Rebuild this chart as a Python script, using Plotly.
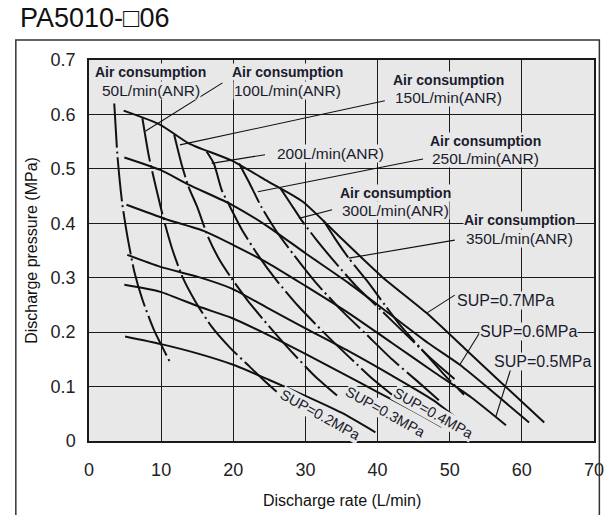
import plotly.graph_objects as go

# ---- axes ----
rate_ticks = [0, 10, 20, 30, 40, 50, 60, 70]
pressure_ticks = [0, 0.1, 0.2, 0.3, 0.4, 0.5, 0.6, 0.7]
pressure_tick_text = ["0", "0.1", "0.2", "0.3", "0.4", "0.5", "0.6", "0.7"]

# ---- supply pressure curves (discharge rate L/min, discharge pressure MPa) ----
sup07_x = [4.8, 9.9, 13.8, 19.8, 24.8, 29.6, 35.0, 40.6, 46.8, 52.0, 57.0, 63.1]
sup07_y = [0.607, 0.581, 0.547, 0.515, 0.477, 0.440, 0.372, 0.302, 0.235, 0.171, 0.109, 0.034]
sup06_x = [4.9, 9.9, 13.8, 19.8, 24.8, 30.0, 36.0, 42.0, 47.0, 51.4, 56.0, 61.0]
sup06_y = [0.521, 0.498, 0.471, 0.434, 0.394, 0.345, 0.290, 0.230, 0.180, 0.140, 0.090, 0.034]
sup05_x = [5.2, 10.6, 15.9, 20.0, 24.8, 30.0, 36.0, 42.0, 48.0, 53.0, 57.8]
sup05_y = [0.434, 0.408, 0.386, 0.360, 0.327, 0.285, 0.235, 0.180, 0.125, 0.080, 0.029]
sup04_x = [5.3, 9.9, 15.0, 19.8, 24.8, 30.0, 36.0, 42.0, 47.7, 52.8]
sup04_y = [0.342, 0.320, 0.302, 0.280, 0.244, 0.207, 0.165, 0.120, 0.075, 0.022]
sup03_x = [4.9, 9.9, 15.2, 19.8, 24.8, 30.0, 35.0, 40.0, 45.0, 48.9]
sup03_y = [0.287, 0.274, 0.247, 0.226, 0.195, 0.160, 0.125, 0.090, 0.055, 0.026]
sup02_x = [5.0, 10.0, 15.0, 20.0, 25.0, 30.0, 35.0, 39.7]
sup02_y = [0.192, 0.178, 0.161, 0.140, 0.112, 0.083, 0.052, 0.016]

# ---- air consumption curves ----
air050_x = [3.5, 3.95, 4.6, 5.4, 6.3, 7.4, 9.0, 11.3]
air050_y = [0.620, 0.523, 0.437, 0.370, 0.310, 0.260, 0.204, 0.143]
air100_x = [7.4, 8.3, 9.3, 10.4, 11.6, 13.0, 14.8, 17.0, 19.5, 22.0, 24.2, 26.2]
air100_y = [0.593, 0.523, 0.465, 0.405, 0.350, 0.300, 0.255, 0.210, 0.172, 0.140, 0.112, 0.088]
air150_x = [11.8, 12.8, 13.8, 15.0, 16.5, 18.0, 19.7, 22.0, 25.0, 28.0, 31.4, 34.6]
air150_y = [0.563, 0.510, 0.467, 0.430, 0.375, 0.335, 0.300, 0.258, 0.210, 0.165, 0.118, 0.081]
air200_x = [16.3, 17.3, 18.4, 19.3, 21.2, 23.5, 26.0, 29.0, 32.5, 36.0, 39.5, 42.0]
air200_y = [0.532, 0.510, 0.461, 0.437, 0.388, 0.340, 0.295, 0.248, 0.200, 0.155, 0.112, 0.085]
air250_x = [20.8, 22.2, 23.9, 26.0, 28.5, 31.5, 35.0, 38.5, 42.0, 45.5, 48.5]
air250_y = [0.510, 0.475, 0.430, 0.385, 0.340, 0.290, 0.240, 0.195, 0.150, 0.110, 0.075]
air300_x = [26.5, 28.0, 29.5, 31.5, 34.0, 37.0, 40.5, 44.0, 47.5, 51.0]
air300_y = [0.465, 0.435, 0.405, 0.370, 0.330, 0.285, 0.240, 0.195, 0.150, 0.110]
air350_x = [32.5, 34.2, 36.0, 38.5, 41.0, 43.3, 46.0, 49.3, 52.0]
air350_y = [0.405, 0.370, 0.336, 0.295, 0.250, 0.210, 0.170, 0.121, 0.085]

sup_curves = [(sup07_x, sup07_y), (sup06_x, sup06_y), (sup05_x, sup05_y),
              (sup04_x, sup04_y), (sup03_x, sup03_y), (sup02_x, sup02_y)]
air_curves = [(air050_x, air050_y), (air100_x, air100_y), (air150_x, air150_y),
              (air200_x, air200_y), (air250_x, air250_y), (air300_x, air300_y),
              (air350_x, air350_y)]

INK = "#1b1b2e"
PLOT_BG = "#e7e8e7"
FONT = "Arial, Liberation Sans, sans-serif"

fig = go.Figure()

for xs, ys in sup_curves:
    fig.add_trace(go.Scatter(x=xs, y=ys, mode="lines",
                             line=dict(color="#111111", width=2, shape="spline", smoothing=0.6),
                             hoverinfo="skip", showlegend=False))

for xs, ys in air_curves:
    fig.add_trace(go.Scatter(x=xs, y=ys, mode="lines",
                             line=dict(color="#111111", width=2, shape="spline", smoothing=0.6,
                                       dash="44px,4px,2px,4px"),
                             hoverinfo="skip", showlegend=False))

# leader lines from labels to curves
leaders = [
    (18.5, 0.658, 7.8, 0.569),
    (41.0, 0.625, 12.6, 0.544),
    (24.4, 0.526, 17.0, 0.510),
    (46.3, 0.518, 23.4, 0.458),
    (33.7, 0.425, 29.1, 0.409),
    (50.7, 0.369, 36.0, 0.336),
    (50.7, 0.268, 46.8, 0.235),
    (54.1, 0.198, 51.4, 0.140),
    (58.5, 0.134, 56.4, 0.045),
]
shapes = []
for x0, y0, x1, y1 in leaders:
    shapes.append(dict(type="line", xref="x", yref="y", x0=x0, y0=y0, x1=x1, y1=y1,
                       line=dict(color="#111111", width=1.1), layer="above"))

# outer frame around the figure
shapes.append(dict(type="path", xref="paper", yref="paper",
                   path="M -0.1449,-0.25 L -0.1449,1.0525 L 1.0106,1.0525 L 1.0106,-0.25",
                   line=dict(color="#333333", width=1.5)))

annotations = []

def label(x, y, text, size=16.5, angle=0, anchor="center"):
    annotations.append(dict(x=x, y=y, xref="x", yref="y", text=text, showarrow=False,
                            xanchor=anchor, yanchor="middle", textangle=angle,
                            font=dict(family=FONT, size=size, color=INK),
                            bgcolor=PLOT_BG, borderpad=0))

def consumption_label(x, y, value):
    # heading line and value line stacked, each on its own backing box
    label(x, y + 0.0165, "<b>Air consumption</b>", size=14)
    label(x, y - 0.0165, value, size=15.5)

# air consumption labels
consumption_label(8.55, 0.661, "50L/min(ANR)")
consumption_label(27.55, 0.661, "100L/min(ANR)")
consumption_label(49.9, 0.647, "150L/min(ANR)")
label(33.5, 0.529, "200L/min(ANR)", size=15.5)
consumption_label(55.0, 0.535, "250L/min(ANR)")
consumption_label(42.45, 0.440, "300L/min(ANR)")
consumption_label(59.65, 0.389, "350L/min(ANR)")

# supply pressure labels
label(50.9, 0.259, "SUP=0.7MPa", size=16, anchor="left")
label(54.1, 0.201, "SUP=0.6MPa", size=16, anchor="left")
label(56.0, 0.146, "SUP=0.5MPa", size=16, anchor="left")
label(32.1, 0.048, "SUP=0.2MPa", size=14.5, angle=29)
label(41.1, 0.053, "SUP=0.3MPa", size=14.5, angle=29)
label(47.7, 0.051, "SUP=0.4MPa", size=14.5, angle=29)

# title and axis titles
annotations.append(dict(x=-0.141, y=1.110, xref="paper", yref="paper", text="PA5010-□06",
                        showarrow=False, xanchor="left", yanchor="middle",
                        font=dict(family=FONT, size=27, color="#111111")))
annotations.append(dict(x=0.5008, y=-0.155, xref="paper", yref="paper",
                        text="Discharge rate (L/min)", showarrow=False,
                        xanchor="center", yanchor="middle",
                        font=dict(family=FONT, size=16, color="#111111")))
annotations.append(dict(x=-0.1154, y=0.501, xref="paper", yref="paper",
                        text="Discharge pressure (MPa)", showarrow=False, textangle=-90,
                        xanchor="center", yanchor="middle",
                        font=dict(family=FONT, size=16, color="#111111")))

fig.update_layout(
    width=616, height=515,
    margin=dict(l=89, r=19, t=60, b=74),
    paper_bgcolor="white", plot_bgcolor=PLOT_BG,
    shapes=shapes, annotations=annotations,
    xaxis=dict(range=[0, 70], tickvals=rate_ticks, showgrid=True, gridcolor="#1a1a1a",
               gridwidth=1.3, zeroline=False, showline=True, linecolor="#1a1a1a",
               linewidth=1.5, mirror=True, ticks="", ticklabelstandoff=12,
               tickfont=dict(family=FONT, size=18, color="#222222"), fixedrange=True),
    yaxis=dict(range=[0, 0.7], tickvals=pressure_ticks, ticktext=pressure_tick_text,
               showgrid=True, gridcolor="#1a1a1a", gridwidth=1.3, zeroline=False,
               showline=True, linecolor="#1a1a1a", linewidth=1.5, mirror=True,
               ticks="", ticklabelstandoff=8,
               tickfont=dict(family=FONT, size=18, color="#222222"), fixedrange=True),
)

fig.write_html("out.html")
